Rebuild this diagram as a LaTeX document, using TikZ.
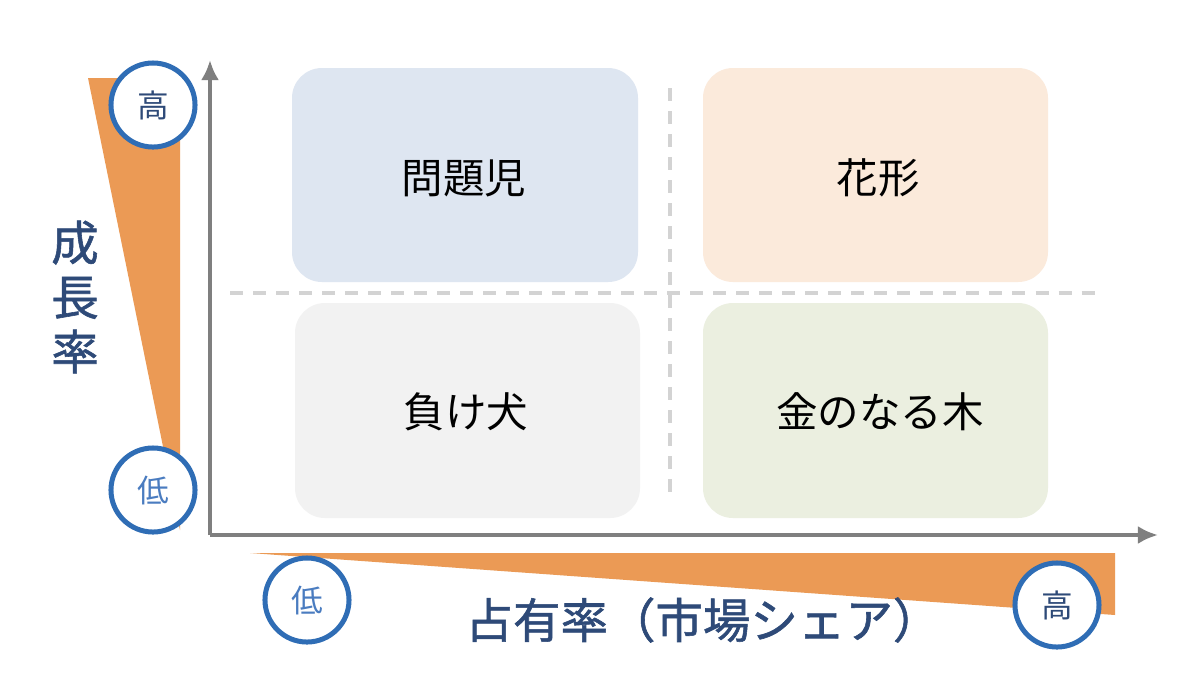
\documentclass[tikz,border=0pt]{standalone}
\usepackage{fontspec}
\usetikzlibrary{arrows.meta}
\newfontfamily\cjk{Noto Sans CJK JP}
\newfontfamily\cjkm[FakeBold=1.2]{Noto Sans CJK JP}
\definecolor{axisgray}{HTML}{7F7F7F}
\definecolor{dashgray}{HTML}{D3D3D3}
\definecolor{orng}{HTML}{EB9A55}
\definecolor{cblue}{HTML}{2F6DB5}
\definecolor{dblue}{HTML}{2E4A78}
\definecolor{lblue}{HTML}{4A7CC0}
\definecolor{qa}{HTML}{DEE6F1}
\definecolor{qb}{HTML}{FBEADB}
\definecolor{qc}{HTML}{F2F2F2}
\definecolor{qd}{HTML}{EBEFE0}
\begin{document}
\begin{tikzpicture}[x=0.01cm,y=-0.01cm,
  quad/.style={draw=none,font=\cjk\fontsize{11.8pt}{13pt}\selectfont},
  circ/.style={circle,draw=cblue,line width=0.05cm,fill=white,minimum size=0.84cm,inner sep=0pt,font=\cjk\fontsize{9pt}{10pt}\selectfont},
  ax/.style={draw=axisgray,line width=0.04cm,-{Latex[length=0.2cm,width=0.18cm]}},
  dsh/.style={draw=dashgray,line width=0.04cm,dash pattern=on 0.13cm off 0.1cm}]
\useasboundingbox (0,0) rectangle (1199,687);
\fill[white] (0,0) rectangle (1199,687);
% quadrants
\fill[qa,rounded corners=0.3cm] (292,68) rectangle (638,282);
\fill[qb,rounded corners=0.3cm] (703,68) rectangle (1048,282);
\fill[qc,rounded corners=0.3cm] (295,303) rectangle (640,518);
\fill[qd,rounded corners=0.3cm] (703,303) rectangle (1048,518);
\node[quad] (q1) at (464,178) {問題児};
\node[quad] (q2) at (878,178) {花形};
\node[quad] (q3) at (466,412) {負け犬};
\node[quad] (q4) at (880,412) {金のなる木};
% dashed
\coordinate (h1) at (230,293); \coordinate (h2) at (1098,293);
\coordinate (v1) at (670,88); \coordinate (v2) at (670,500);
\draw[dsh] (h1) -- (h2);
\draw[dsh] (v1) -- (v2);
% orange triangles
\fill[orng] (88,78) -- (180,78) -- (180,530) -- cycle;
\fill[orng] (250,553) -- (1115,553) -- (1115,615) -- cycle;
% axes
\coordinate (o) at (210,535);
\coordinate (yt) at (210,60);
\coordinate (xr) at (1158,535);
\draw[ax] (o) -- (yt);
\draw[ax] (o) -- (xr);
% circles
\node[circ,text=dblue] (c1) at (153,105) {高};
\node[circ,text=lblue] (c2) at (153,490) {低};
\node[circ,text=lblue] (c3) at (307,600) {低};
\node[circ,text=dblue] (c4) at (1057,605) {高};
% axis labels
\node[font=\cjkm\fontsize{13.5pt}{15.5pt}\selectfont,text=dblue,align=center] (yl) at (75,297) {成\\長\\率};
\node[font=\cjkm\fontsize{13.5pt}{15pt}\selectfont,text=dblue] (xl) at (703,620) {占有率（市場シェア）};
\end{tikzpicture}
\end{document}
